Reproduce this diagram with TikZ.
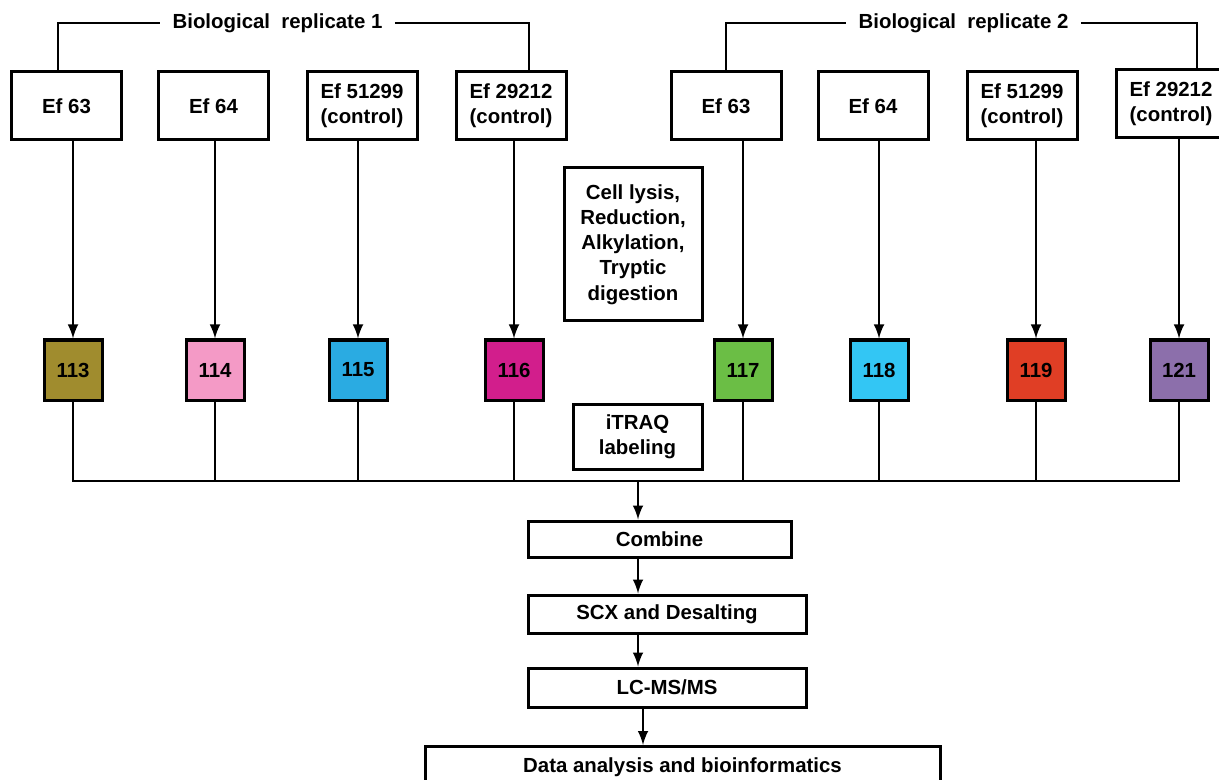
\documentclass[tikz,border=0pt]{standalone}
\usepackage{fontspec}
\setmainfont{Liberation Sans}
\definecolor{c113}{HTML}{A08C2E}
\definecolor{c114}{HTML}{F49AC6}
\definecolor{c115}{HTML}{2AABE2}
\definecolor{c116}{HTML}{D21E8C}
\definecolor{c117}{HTML}{6BBE45}
\definecolor{c118}{HTML}{33C6F4}
\definecolor{c119}{HTML}{E03E25}
\definecolor{c121}{HTML}{8C6FAB}
\begin{document}
\begin{tikzpicture}[
    x=0.5pt, y=-0.5pt,
    % strain boxes
    sample/.style={
        draw, line width=1.5pt, fill=white,
        font=\fontsize{10.2}{12.6}\selectfont\bfseries,
        minimum width=55pt, minimum height=34pt,
        align=center, inner sep=0pt
    },
    % iTRAQ tags
    tag/.style={
        draw, line width=1.5pt,
        font=\fontsize{10.2}{12.6}\selectfont\bfseries,
        minimum width=29pt, minimum height=30pt, inner sep=0pt
    },
    % workflow steps
    stepbox/.style={
        draw, line width=1.5pt, fill=white,
        font=\fontsize{10.2}{12.6}\selectfont\bfseries,
        align=center, inner sep=0pt
    },
    reptext/.style={font=\fontsize{10.2}{12.6}\selectfont\bfseries, inner xsep=6pt},
    wire/.style={draw, line width=1.4pt},
    link/.style={wire, -latex}
]
\useasboundingbox (0,0) rectangle (1219,780);
\clip (0,0) rectangle (1219,780);

% ---- REPLICATE 1 ----
\node[sample] (s1) at (66.5,106) {Ef 63};
\node[sample] (s2) at (213.5,106) {Ef 64};
\node[sample] (s3) at (362,106) {Ef 51299\\(control)};
\node[sample] (s4) at (511,106) {Ef 29212\\(control)};

\node[reptext] (rep1) at (277.5,23) {Biological\ \ replicate 1};
\draw[wire] ([xshift=-4.25pt]s1.north) |- (rep1.west);
\draw[wire] (rep1.east) -| ([xshift=9pt]s4.north);

% ---- REPLICATE 2 ----
\node[sample] (s5) at (726,106) {Ef 63};
\node[sample] (s6) at (873,106) {Ef 64};
\node[sample] (s7) at (1022,106) {Ef 51299\\(control)};
\node[sample] (s8) at (1171,104) {Ef 29212\\(control)};

\node[reptext] (rep2) at (963.5,23) {Biological\ \ replicate 2};
\draw[wire] (s5.north) |- (rep2.west);
\draw[wire] (rep2.east) -| ([xshift=13pt]s8.north);

% ---- LABELS ----
\node[tag, fill=c113] (t113) at (73,370)   {113};
\node[tag, fill=c114] (t114) at (215,370)  {114};
\node[tag, fill=c115] (t115) at (358,370)  {115};
\node[tag, fill=c116] (t116) at (514,370)  {116};
\node[tag, fill=c117] (t117) at (743,370)  {117};
\node[tag, fill=c118] (t118) at (879,370)  {118};
\node[tag, fill=c119] (t119) at (1036,370) {119};
\node[tag, fill=c121] (t121) at (1179,370) {121};

\draw[link] (s1.south -| t113.north) -- (t113.north);
\draw[link] (s2.south -| t114.north) -- (t114.north);
\draw[link] (s3.south -| t115.north) -- (t115.north);
\draw[link] (s4.south -| t116.north) -- (t116.north);
\draw[link] (s5.south -| t117.north) -- (t117.north);
\draw[link] (s6.south -| t118.north) -- (t118.north);
\draw[link] (s7.south -| t119.north) -- (t119.north);
\draw[link] (s8.south -| t121.north) -- (t121.north);

\node[stepbox, minimum width=69pt, minimum height=76.5pt] (lysis) at (633,244.5)
    {Cell lysis,\\Reduction,\\Alkylation,\\Tryptic\\digestion};
\node[stepbox, minimum width=64.5pt, minimum height=32.5pt] (itraq) at (637.5,436.5)
    {iTRAQ\\labeling};

% ---- POOLING ----
\coordinate (bus) at (638,481);
\draw[wire] (t113.south) |- (bus);
\draw[wire] (t114.south) |- (bus);
\draw[wire] (t115.south) |- (bus);
\draw[wire] (t116.south) |- (bus);
\draw[wire] (t117.south) |- (bus);
\draw[wire] (t118.south) |- (bus);
\draw[wire] (t119.south) |- (bus);
\draw[wire] (t121.south) |- (bus);

\node[stepbox, minimum width=131.5pt, minimum height=18pt] (combine) at (659.5,539) {Combine};
\node[stepbox, minimum width=139pt, minimum height=19pt] (scx) at (667,614) {SCX and Desalting};
\node[stepbox, minimum width=139pt, minimum height=19.5pt] (lcms) at (667,687.5) {LC-MS/MS};
\node[stepbox, anchor=north, minimum width=257.5pt, inner ysep=5.5pt, text depth=30pt] (data)
    at (682.5,745) {Data analysis and bioinformatics};

\draw[link] (bus) -- (bus |- combine.north);
\draw[link] (combine.south -| bus) -- (scx.north -| bus);
\draw[link] (scx.south -| bus) -- (lcms.north -| bus);
\draw[link] ([xshift=2.5pt]lcms.south -| bus) -- ([xshift=2.5pt]data.north -| bus);

\end{tikzpicture}
\end{document}
